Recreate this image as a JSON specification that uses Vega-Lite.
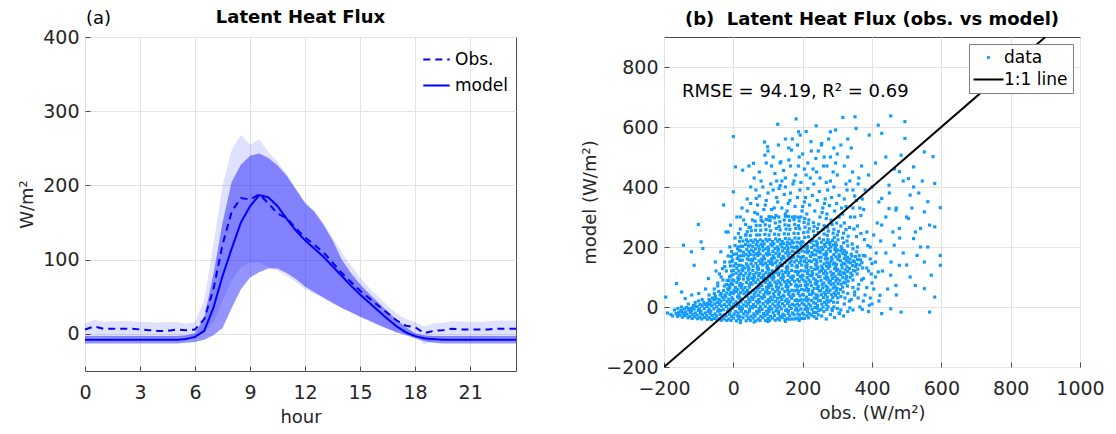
{
"$schema":"https://vega.github.io/schema/vega-lite/v6.json",
"background":"white",
"padding":{"left":18,"top":8,"right":5,"bottom":5},
"spacing":60,
"resolve":{"legend":{"color":"independent","strokeDash":"independent"},"scale":{"color":"independent","strokeDash":"independent"}},
"config":{
"font":"DejaVu Sans",
"view":{"stroke":"#4d4d4d","strokeWidth":1},
"axis":{"labelFont":"DejaVu Sans","labelFontSize":19,"labelColor":"#262626","titleFont":"DejaVu Sans","titleFontSize":18,"titleFontWeight":"normal","titleColor":"#262626","domain":false,"tickColor":"#4d4d4d","tickSize":-5,"gridColor":"#e3e3e3","grid":true,"labelPadding":11,"titlePadding":6,"format":"d","labelFlush":false,"labelOverlap":false},
"axisX":{"labelPadding":17},
"title":{"font":"DejaVu Sans","fontSize":18,"fontWeight":"bold","color":"#000000","anchor":"middle","offset":8}
},
"hconcat":[
{
"width":431,"height":334,
"title":{"text":"Latent Heat Flux","offset":-17},
"data":{"values":[
{"h":0,"obs":6,"model":-8,"olo":-5,"ohi":14,"mlo":-13,"mhi":-3},
{"h":0.5,"obs":10,"model":-8,"olo":-4,"ohi":19,"mlo":-13,"mhi":-3},
{"h":1,"obs":7,"model":-8,"olo":-4,"ohi":16,"mlo":-13,"mhi":-3},
{"h":1.5,"obs":7,"model":-8,"olo":-5,"ohi":17,"mlo":-13,"mhi":-3},
{"h":2,"obs":7,"model":-8,"olo":-5,"ohi":17,"mlo":-13,"mhi":-3},
{"h":2.5,"obs":7,"model":-8,"olo":-5,"ohi":17,"mlo":-13,"mhi":-3},
{"h":3,"obs":6,"model":-8,"olo":-5,"ohi":16,"mlo":-13,"mhi":-3},
{"h":3.5,"obs":5,"model":-8,"olo":-6,"ohi":16,"mlo":-13,"mhi":-3},
{"h":4,"obs":4,"model":-8,"olo":-6,"ohi":15,"mlo":-13,"mhi":-3},
{"h":4.5,"obs":4,"model":-8,"olo":-6,"ohi":16,"mlo":-13,"mhi":-3},
{"h":5,"obs":6,"model":-8,"olo":-5,"ohi":16,"mlo":-13,"mhi":-3},
{"h":5.5,"obs":5,"model":-7,"olo":-5,"ohi":14,"mlo":-12,"mhi":-2},
{"h":6,"obs":6,"model":-4,"olo":-3,"ohi":16,"mlo":-11,"mhi":1},
{"h":6.5,"obs":20,"model":4,"olo":2,"ohi":45,"mlo":-8,"mhi":22},
{"h":7,"obs":60,"model":35,"olo":15,"ohi":120,"mlo":-2,"mhi":80},
{"h":7.5,"obs":120,"model":78,"olo":45,"ohi":200,"mlo":8,"mhi":150},
{"h":8,"obs":165,"model":115,"olo":72,"ohi":248,"mlo":35,"mhi":205},
{"h":8.5,"obs":183,"model":150,"olo":90,"ohi":268,"mlo":60,"mhi":228},
{"h":9,"obs":181,"model":172,"olo":96,"ohi":255,"mlo":76,"mhi":240},
{"h":9.5,"obs":188,"model":187,"olo":96,"ohi":262,"mlo":83,"mhi":243},
{"h":10,"obs":176,"model":184,"olo":90,"ohi":245,"mlo":88,"mhi":237},
{"h":10.5,"obs":162,"model":172,"olo":85,"ohi":232,"mlo":88,"mhi":227},
{"h":11,"obs":156,"model":155,"olo":78,"ohi":215,"mlo":82,"mhi":213},
{"h":11.5,"obs":142,"model":139,"olo":70,"ohi":195,"mlo":74,"mhi":195},
{"h":12,"obs":130,"model":126,"olo":60,"ohi":178,"mlo":64,"mhi":176},
{"h":12.5,"obs":120,"model":115,"olo":54,"ohi":165,"mlo":56,"mhi":165},
{"h":13,"obs":110,"model":104,"olo":48,"ohi":150,"mlo":49,"mhi":147},
{"h":13.5,"obs":96,"model":91,"olo":41,"ohi":130,"mlo":42,"mhi":126},
{"h":14,"obs":82,"model":78,"olo":35,"ohi":110,"mlo":35,"mhi":100},
{"h":14.5,"obs":70,"model":65,"olo":29,"ohi":92,"mlo":29,"mhi":82},
{"h":15,"obs":58,"model":53,"olo":23,"ohi":76,"mlo":23,"mhi":67},
{"h":15.5,"obs":48,"model":42,"olo":17,"ohi":62,"mlo":18,"mhi":54},
{"h":16,"obs":38,"model":31,"olo":12,"ohi":50,"mlo":12,"mhi":42},
{"h":16.5,"obs":28,"model":20,"olo":7,"ohi":38,"mlo":7,"mhi":30},
{"h":17,"obs":18,"model":10,"olo":3,"ohi":27,"mlo":2,"mhi":19},
{"h":17.5,"obs":11,"model":2,"olo":0,"ohi":20,"mlo":-2,"mhi":9},
{"h":18,"obs":9,"model":-3,"olo":-4,"ohi":16,"mlo":-6,"mhi":1},
{"h":18.5,"obs":1,"model":-6,"olo":-14,"ohi":10,"mlo":-10,"mhi":-2},
{"h":19,"obs":4,"model":-7,"olo":-10,"ohi":14,"mlo":-12,"mhi":-3},
{"h":19.5,"obs":5,"model":-8,"olo":-7,"ohi":15,"mlo":-13,"mhi":-3},
{"h":20,"obs":7,"model":-8,"olo":-6,"ohi":17,"mlo":-13,"mhi":-3},
{"h":20.5,"obs":6,"model":-8,"olo":-6,"ohi":17,"mlo":-13,"mhi":-3},
{"h":21,"obs":6,"model":-8,"olo":-6,"ohi":16,"mlo":-13,"mhi":-3},
{"h":21.5,"obs":6,"model":-8,"olo":-6,"ohi":16,"mlo":-13,"mhi":-3},
{"h":22,"obs":6,"model":-8,"olo":-6,"ohi":17,"mlo":-13,"mhi":-3},
{"h":22.5,"obs":7,"model":-8,"olo":-5,"ohi":18,"mlo":-13,"mhi":-3},
{"h":23,"obs":7,"model":-8,"olo":-5,"ohi":18,"mlo":-13,"mhi":-3},
{"h":23.5,"obs":7,"model":-8,"olo":-5,"ohi":18,"mlo":-13,"mhi":-3}
]},
"layer":[
{"mark":{"type":"area","color":"#0000ff","opacity":0.12},
"encoding":{
"x":{"field":"h","type":"quantitative","scale":{"domain":[0,23.5],"nice":false},"axis":{"values":[0,3,6,9,12,15,18,21],"title":"hour"}},
"y":{"field":"olo","type":"quantitative","scale":{"domain":[-50,400],"nice":false},"axis":{"values":[0,100,200,300,400],"title":"W/m²"}},
"y2":{"field":"ohi"}}},
{"mark":{"type":"area","color":"#0000ff","opacity":0.42},
"encoding":{"x":{"field":"h","type":"quantitative"},"y":{"field":"mlo","type":"quantitative"},"y2":{"field":"mhi"}}},
{"transform":[{"fold":["obs","model"],"as":["key","val"]}],
"mark":{"type":"line","color":"#0000ff","strokeWidth":2},
"encoding":{"x":{"field":"h","type":"quantitative"},"y":{"field":"val","type":"quantitative"},
"strokeDash":{"field":"key","type":"nominal","scale":{"domain":["obs","model"],"range":[[7,5],[1,0]]},
"legend":{"title":null,"orient":"top-right","offset":8,"symbolType":"stroke","symbolStrokeColor":"#0000ff","symbolStrokeWidth":2,"symbolSize":700,"labelFontSize":17,"labelFont":"DejaVu Sans","labelColor":"#000000","rowPadding":3,"padding":0,"labelExpr":"datum.label == 'obs' ? 'Obs.' : datum.label"}}}},
{"data":{"values":[{}]},
"mark":{"type":"text","text":"(a)","align":"left","baseline":"alphabetic","dy":-13,"dx":1,"fontSize":18,"font":"DejaVu Sans","color":"#000000"},
"encoding":{"x":{"datum":0},"y":{"datum":400}}}
]
},
{
"width":416,"height":330,
"title":{"text":"(b)\u00a0 Latent Heat Flux (obs. vs model)"},
"layer":[
{"data":{"values":[
{"o":-161,"m":-31},{"o":-158,"m":-19},
{"o":-147,"m":-34},{"o":-145,"m":-21},{"o":-149,"m":-12},
{"o":-131,"m":-36},{"o":-134,"m":-24},{"o":-129,"m":-10},
{"o":-119,"m":-38},{"o":-117,"m":-25},{"o":-121,"m":-13},{"o":-118,"m":-3},
{"o":-103,"m":-39},{"o":-105,"m":-27},{"o":-101,"m":-12},{"o":-104,"m":1},
{"o":-91,"m":-40},{"o":-89,"m":-26},{"o":-93,"m":-14},{"o":-90,"m":4},
{"o":-75,"m":-41},{"o":-77,"m":-29},{"o":-73,"m":-15},{"o":-76,"m":2},{"o":-74,"m":12},
{"o":-63,"m":-42},{"o":-61,"m":-28},{"o":-65,"m":-13},{"o":-62,"m":4},{"o":-64,"m":17},
{"o":-47,"m":-43},{"o":-49,"m":-30},{"o":-45,"m":-14},{"o":-48,"m":1},{"o":-46,"m":15},{"o":-50,"m":28},
{"o":-35,"m":-44},{"o":-33,"m":-29},{"o":-37,"m":-12},{"o":-34,"m":3},{"o":-36,"m":19},{"o":-32,"m":33},{"o":-35,"m":45},
{"o":-19,"m":-45},{"o":-21,"m":-30},{"o":-17,"m":-15},{"o":-20,"m":2},{"o":-18,"m":18},{"o":-22,"m":34},{"o":-19,"m":47},{"o":-16,"m":61},{"o":-20,"m":75},{"o":-18,"m":89},
{"o":-7,"m":-45},{"o":-5,"m":-31},{"o":-9,"m":-14},{"o":-6,"m":1},{"o":-8,"m":18},{"o":-4,"m":31},{"o":-7,"m":49},{"o":-10,"m":64},{"o":-6,"m":78},{"o":-3,"m":90},{"o":-7,"m":104},{"o":-5,"m":120},{"o":-8,"m":137},{"o":-4,"m":152},{"o":-6,"m":168},
{"o":9,"m":-46},{"o":11,"m":-30},{"o":7,"m":-15},{"o":10,"m":3},{"o":8,"m":17},{"o":12,"m":34},{"o":9,"m":51},{"o":6,"m":65},{"o":10,"m":82},{"o":13,"m":97},{"o":8,"m":113},{"o":10,"m":129},{"o":7,"m":145},{"o":11,"m":161},{"o":9,"m":177},{"o":12,"m":194},
{"o":21,"m":-46},{"o":19,"m":-31},{"o":23,"m":-14},{"o":20,"m":0},{"o":22,"m":17},{"o":18,"m":31},{"o":21,"m":48},{"o":24,"m":64},{"o":20,"m":79},{"o":17,"m":95},{"o":22,"m":111},{"o":25,"m":125},{"o":21,"m":139},{"o":19,"m":155},{"o":23,"m":171},{"o":20,"m":187},{"o":22,"m":203},{"o":18,"m":219},{"o":21,"m":232},
{"o":37,"m":-46},{"o":39,"m":-30},{"o":35,"m":-15},{"o":38,"m":3},{"o":36,"m":17},{"o":40,"m":35},{"o":37,"m":50},{"o":34,"m":65},{"o":38,"m":82},{"o":41,"m":97},{"o":36,"m":113},{"o":33,"m":130},{"o":38,"m":144},{"o":40,"m":160},{"o":36,"m":176},{"o":39,"m":192},{"o":35,"m":208},{"o":38,"m":224},{"o":37,"m":240},{"o":40,"m":251},
{"o":49,"m":-45},{"o":51,"m":-31},{"o":47,"m":-14},{"o":50,"m":1},{"o":48,"m":18},{"o":52,"m":33},{"o":49,"m":48},{"o":46,"m":66},{"o":50,"m":81},{"o":53,"m":96},{"o":48,"m":112},{"o":45,"m":129},{"o":51,"m":144},{"o":54,"m":159},{"o":49,"m":175},{"o":52,"m":190},{"o":48,"m":206},{"o":51,"m":222},{"o":49,"m":238},{"o":52,"m":254},{"o":50,"m":266},
{"o":65,"m":-46},{"o":63,"m":-30},{"o":67,"m":-15},{"o":64,"m":2},{"o":66,"m":19},{"o":62,"m":34},{"o":65,"m":50},{"o":68,"m":65},{"o":64,"m":82},{"o":61,"m":99},{"o":66,"m":114},{"o":69,"m":129},{"o":65,"m":146},{"o":62,"m":162},{"o":67,"m":177},{"o":64,"m":194},{"o":66,"m":208},{"o":63,"m":224},{"o":67,"m":240},{"o":64,"m":256},{"o":66,"m":272},{"o":63,"m":286},
{"o":77,"m":-45},{"o":79,"m":-31},{"o":75,"m":-15},{"o":78,"m":2},{"o":76,"m":17},{"o":80,"m":33},{"o":77,"m":50},{"o":74,"m":64},{"o":78,"m":81},{"o":81,"m":98},{"o":76,"m":112},{"o":73,"m":129},{"o":79,"m":145},{"o":82,"m":160},{"o":77,"m":177},{"o":75,"m":193},{"o":80,"m":209},{"o":78,"m":224},{"o":76,"m":240},{"o":79,"m":256},{"o":77,"m":272},{"o":80,"m":289},
{"o":93,"m":-45},{"o":91,"m":-29},{"o":95,"m":-14},{"o":92,"m":2},{"o":94,"m":19},{"o":90,"m":34},{"o":93,"m":49},{"o":96,"m":66},{"o":92,"m":82},{"o":89,"m":97},{"o":94,"m":114},{"o":97,"m":131},{"o":93,"m":146},{"o":90,"m":161},{"o":95,"m":178},{"o":92,"m":194},{"o":89,"m":210},{"o":94,"m":226},{"o":91,"m":242},{"o":94,"m":258},{"o":92,"m":274},{"o":95,"m":292},
{"o":105,"m":-44},{"o":107,"m":-31},{"o":103,"m":-15},{"o":106,"m":1},{"o":104,"m":18},{"o":108,"m":33},{"o":105,"m":48},{"o":102,"m":65},{"o":106,"m":81},{"o":109,"m":98},{"o":104,"m":113},{"o":101,"m":128},{"o":107,"m":145},{"o":110,"m":161},{"o":105,"m":176},{"o":102,"m":193},{"o":108,"m":209},{"o":105,"m":225},{"o":103,"m":240},{"o":107,"m":254},{"o":104,"m":270},{"o":106,"m":288},{"o":103,"m":301},
{"o":121,"m":-44},{"o":119,"m":-29},{"o":123,"m":-13},{"o":120,"m":3},{"o":122,"m":19},{"o":118,"m":35},{"o":121,"m":52},{"o":124,"m":67},{"o":120,"m":83},{"o":117,"m":98},{"o":122,"m":115},{"o":125,"m":131},{"o":121,"m":147},{"o":118,"m":163},{"o":123,"m":179},{"o":120,"m":195},{"o":117,"m":211},{"o":122,"m":227},{"o":119,"m":243},{"o":124,"m":262},{"o":121,"m":280},{"o":119,"m":297},
{"o":133,"m":-43},{"o":135,"m":-31},{"o":131,"m":-15},{"o":134,"m":1},{"o":132,"m":17},{"o":136,"m":33},{"o":133,"m":49},{"o":130,"m":65},{"o":134,"m":81},{"o":137,"m":97},{"o":132,"m":113},{"o":129,"m":129},{"o":135,"m":145},{"o":138,"m":161},{"o":133,"m":177},{"o":130,"m":193},{"o":136,"m":209},{"o":133,"m":225},{"o":131,"m":241},{"o":135,"m":257},{"o":132,"m":268},{"o":134,"m":284},{"o":131,"m":300},
{"o":149,"m":-42},{"o":147,"m":-28},{"o":151,"m":-12},{"o":148,"m":4},{"o":150,"m":20},{"o":146,"m":36},{"o":149,"m":52},{"o":152,"m":68},{"o":148,"m":84},{"o":145,"m":100},{"o":150,"m":116},{"o":153,"m":132},{"o":149,"m":148},{"o":146,"m":164},{"o":151,"m":180},{"o":148,"m":196},{"o":145,"m":212},{"o":150,"m":228},{"o":147,"m":244},{"o":152,"m":260},{"o":149,"m":274},{"o":147,"m":290},{"o":150,"m":303},
{"o":161,"m":-41},{"o":163,"m":-29},{"o":159,"m":-13},{"o":162,"m":3},{"o":160,"m":19},{"o":164,"m":35},{"o":161,"m":51},{"o":158,"m":67},{"o":162,"m":83},{"o":165,"m":99},{"o":160,"m":115},{"o":157,"m":131},{"o":163,"m":147},{"o":166,"m":163},{"o":161,"m":179},{"o":158,"m":195},{"o":164,"m":211},{"o":161,"m":227},{"o":159,"m":243},{"o":163,"m":259},{"o":160,"m":272},{"o":162,"m":288},{"o":159,"m":302},
{"o":177,"m":-40},{"o":175,"m":-26},{"o":179,"m":-10},{"o":176,"m":6},{"o":178,"m":22},{"o":174,"m":38},{"o":177,"m":54},{"o":180,"m":70},{"o":176,"m":86},{"o":173,"m":102},{"o":178,"m":118},{"o":181,"m":134},{"o":177,"m":150},{"o":174,"m":166},{"o":179,"m":182},{"o":176,"m":198},{"o":173,"m":214},{"o":178,"m":230},{"o":175,"m":246},{"o":180,"m":262},{"o":177,"m":275},{"o":175,"m":291},{"o":178,"m":301},
{"o":189,"m":-40},{"o":191,"m":-27},{"o":187,"m":-11},{"o":190,"m":5},{"o":188,"m":21},{"o":192,"m":37},{"o":189,"m":53},{"o":186,"m":69},{"o":190,"m":85},{"o":193,"m":101},{"o":188,"m":117},{"o":185,"m":133},{"o":191,"m":149},{"o":194,"m":165},{"o":189,"m":181},{"o":186,"m":197},{"o":192,"m":213},{"o":189,"m":229},{"o":187,"m":245},{"o":191,"m":261},{"o":188,"m":271},{"o":190,"m":287},{"o":187,"m":299},
{"o":205,"m":-38},{"o":203,"m":-24},{"o":207,"m":-8},{"o":204,"m":8},{"o":206,"m":24},{"o":202,"m":40},{"o":205,"m":56},{"o":208,"m":72},{"o":204,"m":88},{"o":201,"m":104},{"o":206,"m":120},{"o":209,"m":136},{"o":205,"m":152},{"o":202,"m":168},{"o":207,"m":184},{"o":204,"m":200},{"o":201,"m":216},{"o":206,"m":232},{"o":203,"m":248},{"o":207,"m":266},{"o":204,"m":282},{"o":206,"m":295},
{"o":217,"m":-36},{"o":219,"m":-22},{"o":215,"m":-6},{"o":218,"m":10},{"o":216,"m":26},{"o":220,"m":42},{"o":217,"m":58},{"o":214,"m":74},{"o":218,"m":90},{"o":221,"m":106},{"o":216,"m":122},{"o":213,"m":138},{"o":219,"m":154},{"o":222,"m":170},{"o":217,"m":186},{"o":214,"m":202},{"o":220,"m":218},{"o":217,"m":234},{"o":215,"m":250},{"o":219,"m":261},{"o":216,"m":277},{"o":218,"m":290},
{"o":233,"m":-32},{"o":231,"m":-18},{"o":235,"m":-2},{"o":232,"m":14},{"o":234,"m":30},{"o":230,"m":46},{"o":233,"m":62},{"o":236,"m":78},{"o":232,"m":94},{"o":229,"m":110},{"o":234,"m":126},{"o":237,"m":142},{"o":233,"m":158},{"o":230,"m":174},{"o":235,"m":190},{"o":232,"m":206},{"o":229,"m":222},{"o":234,"m":238},{"o":231,"m":253},{"o":233,"m":268},{"o":231,"m":281},
{"o":245,"m":-26},{"o":247,"m":-11},{"o":243,"m":5},{"o":246,"m":21},{"o":244,"m":37},{"o":248,"m":53},{"o":245,"m":69},{"o":242,"m":85},{"o":246,"m":101},{"o":249,"m":117},{"o":244,"m":133},{"o":241,"m":149},{"o":247,"m":165},{"o":250,"m":181},{"o":245,"m":197},{"o":242,"m":213},{"o":248,"m":229},{"o":245,"m":248},{"o":243,"m":262},{"o":246,"m":276},
{"o":261,"m":-15},{"o":259,"m":0},{"o":263,"m":16},{"o":260,"m":32},{"o":262,"m":48},{"o":258,"m":64},{"o":261,"m":80},{"o":264,"m":96},{"o":260,"m":112},{"o":257,"m":128},{"o":262,"m":144},{"o":265,"m":160},{"o":261,"m":176},{"o":258,"m":192},{"o":263,"m":208},{"o":260,"m":224},{"o":262,"m":243},{"o":259,"m":258},{"o":262,"m":271},
{"o":273,"m":1},{"o":275,"m":17},{"o":271,"m":33},{"o":274,"m":49},{"o":272,"m":65},{"o":276,"m":81},{"o":273,"m":97},{"o":270,"m":113},{"o":274,"m":129},{"o":277,"m":145},{"o":272,"m":161},{"o":269,"m":177},{"o":275,"m":193},{"o":278,"m":209},{"o":273,"m":225},{"o":271,"m":239},{"o":274,"m":253},{"o":272,"m":266},
{"o":289,"m":16},{"o":287,"m":31},{"o":291,"m":47},{"o":288,"m":63},{"o":290,"m":79},{"o":286,"m":95},{"o":289,"m":111},{"o":292,"m":127},{"o":288,"m":143},{"o":285,"m":159},{"o":290,"m":175},{"o":293,"m":191},{"o":289,"m":207},{"o":286,"m":222},{"o":291,"m":232},{"o":288,"m":246},{"o":290,"m":259},
{"o":301,"m":30},{"o":303,"m":46},{"o":299,"m":62},{"o":302,"m":78},{"o":300,"m":94},{"o":304,"m":110},{"o":301,"m":126},{"o":298,"m":142},{"o":302,"m":158},{"o":305,"m":174},{"o":300,"m":190},{"o":297,"m":206},{"o":302,"m":224},{"o":300,"m":240},{"o":303,"m":252},
{"o":317,"m":50},{"o":315,"m":66},{"o":319,"m":82},{"o":316,"m":98},{"o":318,"m":114},{"o":314,"m":130},{"o":317,"m":146},{"o":320,"m":162},{"o":316,"m":178},{"o":313,"m":194},{"o":318,"m":214},{"o":315,"m":230},{"o":318,"m":246},
{"o":329,"m":70},{"o":331,"m":86},{"o":327,"m":102},{"o":330,"m":118},{"o":328,"m":134},{"o":332,"m":150},{"o":329,"m":166},{"o":326,"m":182},{"o":330,"m":204},{"o":328,"m":220},{"o":331,"m":236},
{"o":345,"m":90},{"o":343,"m":106},{"o":347,"m":122},{"o":344,"m":138},{"o":346,"m":154},{"o":342,"m":170},{"o":345,"m":194},{"o":343,"m":210},
{"o":357,"m":110},{"o":359,"m":126},{"o":355,"m":142},{"o":358,"m":158},{"o":356,"m":184},{"o":358,"m":200},
{"o":373,"m":130},{"o":371,"m":148},{"o":375,"m":172},
{"o":0,"m":-37},{"o":2,"m":-24},{"o":-2,"m":-4},{"o":1,"m":10},{"o":-1,"m":25},{"o":0,"m":45},{"o":2,"m":55},{"o":-2,"m":75},{"o":1,"m":88},{"o":-1,"m":108},{"o":0,"m":122},{"o":2,"m":137},{"o":-2,"m":157},
{"o":16,"m":-39},{"o":14,"m":-20},{"o":18,"m":-6},{"o":15,"m":8},{"o":17,"m":29},{"o":16,"m":41},{"o":13,"m":59},{"o":18,"m":71},{"o":15,"m":92},{"o":17,"m":106},{"o":16,"m":120},{"o":14,"m":139},{"o":18,"m":157},{"o":15,"m":169},{"o":17,"m":188},
{"o":28,"m":-36},{"o":30,"m":-23},{"o":26,"m":-5},{"o":29,"m":7},{"o":27,"m":26},{"o":31,"m":44},{"o":28,"m":56},{"o":25,"m":75},{"o":29,"m":93},{"o":30,"m":105},{"o":27,"m":122},{"o":28,"m":136},{"o":26,"m":156},{"o":30,"m":171},{"o":29,"m":183},{"o":27,"m":202},
{"o":44,"m":-38},{"o":42,"m":-20},{"o":46,"m":-8},{"o":43,"m":11},{"o":45,"m":25},{"o":44,"m":45},{"o":41,"m":55},{"o":46,"m":74},{"o":43,"m":92},{"o":45,"m":105},{"o":44,"m":123},{"o":42,"m":136},{"o":46,"m":157},{"o":43,"m":170},{"o":45,"m":184},{"o":44,"m":203},{"o":42,"m":217},
{"o":57,"m":-37},{"o":59,"m":-23},{"o":55,"m":-3},{"o":58,"m":8},{"o":56,"m":26},{"o":60,"m":43},{"o":57,"m":55},{"o":54,"m":76},{"o":58,"m":89},{"o":59,"m":108},{"o":56,"m":122},{"o":57,"m":136},{"o":55,"m":155},{"o":59,"m":173},{"o":58,"m":185},{"o":56,"m":202},{"o":57,"m":216},
{"o":72,"m":-40},{"o":70,"m":-21},{"o":74,"m":-6},{"o":71,"m":13},{"o":73,"m":25},{"o":72,"m":39},{"o":69,"m":60},{"o":74,"m":74},{"o":71,"m":91},{"o":73,"m":104},{"o":72,"m":125},{"o":70,"m":137},{"o":74,"m":154},{"o":71,"m":172},{"o":73,"m":183},{"o":72,"m":203},{"o":70,"m":218},
{"o":85,"m":-36},{"o":87,"m":-22},{"o":83,"m":-8},{"o":86,"m":11},{"o":84,"m":29},{"o":88,"m":41},{"o":85,"m":58},{"o":82,"m":71},{"o":86,"m":92},{"o":87,"m":107},{"o":84,"m":121},{"o":85,"m":140},{"o":83,"m":152},{"o":87,"m":170},{"o":86,"m":189},{"o":84,"m":201},{"o":85,"m":219},
{"o":100,"m":-38},{"o":98,"m":-24},{"o":102,"m":-5},{"o":99,"m":13},{"o":101,"m":25},{"o":100,"m":44},{"o":97,"m":55},{"o":102,"m":75},{"o":99,"m":90},{"o":101,"m":104},{"o":100,"m":124},{"o":98,"m":139},{"o":102,"m":153},{"o":99,"m":173},{"o":101,"m":186},{"o":100,"m":200},{"o":98,"m":220},
{"o":113,"m":-37},{"o":115,"m":-19},{"o":111,"m":-7},{"o":114,"m":10},{"o":112,"m":24},{"o":116,"m":44},{"o":113,"m":59},{"o":110,"m":71},{"o":114,"m":92},{"o":115,"m":106},{"o":112,"m":121},{"o":113,"m":141},{"o":111,"m":152},{"o":115,"m":171},{"o":114,"m":185},{"o":112,"m":204},{"o":113,"m":218},
{"o":128,"m":-39},{"o":130,"m":-22},{"o":126,"m":-4},{"o":129,"m":8},{"o":127,"m":29},{"o":131,"m":42},{"o":128,"m":57},{"o":125,"m":76},{"o":129,"m":87},{"o":130,"m":107},{"o":127,"m":124},{"o":128,"m":136},{"o":126,"m":154},{"o":130,"m":169},{"o":129,"m":189},{"o":127,"m":200},{"o":128,"m":219},
{"o":141,"m":-35},{"o":143,"m":-24},{"o":139,"m":-6},{"o":142,"m":11},{"o":140,"m":25},{"o":144,"m":39},{"o":141,"m":60},{"o":138,"m":74},{"o":142,"m":91},{"o":143,"m":108},{"o":140,"m":120},{"o":141,"m":138},{"o":139,"m":157},{"o":143,"m":169},{"o":142,"m":187},{"o":140,"m":200},{"o":141,"m":218},
{"o":156,"m":-38},{"o":158,"m":-21},{"o":154,"m":-9},{"o":157,"m":12},{"o":155,"m":26},{"o":159,"m":43},{"o":156,"m":57},{"o":153,"m":77},{"o":157,"m":88},{"o":158,"m":106},{"o":155,"m":123},{"o":156,"m":136},{"o":154,"m":156},{"o":158,"m":170},{"o":157,"m":185},{"o":155,"m":205},{"o":156,"m":216},
{"o":169,"m":-40},{"o":171,"m":-20},{"o":167,"m":-5},{"o":170,"m":9},{"o":168,"m":29},{"o":172,"m":42},{"o":169,"m":56},{"o":166,"m":75},{"o":170,"m":92},{"o":171,"m":103},{"o":168,"m":122},{"o":169,"m":139},{"o":167,"m":153},{"o":171,"m":172},{"o":170,"m":186},{"o":168,"m":200},{"o":169,"m":221},
{"o":184,"m":-37},{"o":186,"m":-23},{"o":182,"m":-4},{"o":185,"m":10},{"o":183,"m":24},{"o":187,"m":45},{"o":184,"m":57},{"o":181,"m":74},{"o":185,"m":91},{"o":186,"m":108},{"o":183,"m":119},{"o":184,"m":138},{"o":182,"m":156},{"o":186,"m":169},{"o":185,"m":187},{"o":183,"m":202},{"o":184,"m":216},
{"o":197,"m":-38},{"o":199,"m":-20},{"o":195,"m":-7},{"o":198,"m":13},{"o":196,"m":24},{"o":200,"m":42},{"o":197,"m":59},{"o":194,"m":72},{"o":198,"m":93},{"o":199,"m":106},{"o":196,"m":121},{"o":197,"m":140},{"o":195,"m":154},{"o":199,"m":167},{"o":198,"m":187},{"o":196,"m":204},{"o":197,"m":217},
{"o":212,"m":-29},{"o":214,"m":-16},{"o":210,"m":2},{"o":213,"m":20},{"o":211,"m":33},{"o":215,"m":53},{"o":212,"m":63},{"o":209,"m":83},{"o":213,"m":98},{"o":214,"m":112},{"o":211,"m":132},{"o":212,"m":147},{"o":210,"m":161},{"o":214,"m":181},{"o":213,"m":194},{"o":211,"m":208},
{"o":225,"m":-27},{"o":227,"m":-8},{"o":223,"m":4},{"o":226,"m":22},{"o":224,"m":41},{"o":228,"m":53},{"o":225,"m":71},{"o":222,"m":83},{"o":226,"m":104},{"o":227,"m":118},{"o":224,"m":132},{"o":225,"m":151},{"o":223,"m":169},{"o":227,"m":181},{"o":226,"m":198},{"o":224,"m":216},
{"o":240,"m":-18},{"o":242,"m":-4},{"o":238,"m":11},{"o":241,"m":29},{"o":239,"m":41},{"o":243,"m":62},{"o":240,"m":76},{"o":237,"m":90},{"o":241,"m":109},{"o":242,"m":127},{"o":239,"m":139},{"o":240,"m":156},{"o":238,"m":174},{"o":242,"m":186},{"o":241,"m":205},{"o":239,"m":219},
{"o":253,"m":-8},{"o":255,"m":10},{"o":251,"m":22},{"o":254,"m":41},{"o":252,"m":55},{"o":256,"m":75},{"o":253,"m":88},{"o":250,"m":101},{"o":254,"m":122},{"o":255,"m":136},{"o":252,"m":153},{"o":253,"m":166},{"o":251,"m":186},{"o":255,"m":199},{"o":254,"m":216},
{"o":268,"m":9},{"o":270,"m":23},{"o":266,"m":42},{"o":269,"m":56},{"o":267,"m":70},{"o":271,"m":91},{"o":268,"m":103},{"o":265,"m":121},{"o":269,"m":136},{"o":270,"m":149},{"o":267,"m":170},{"o":268,"m":184},{"o":266,"m":201},{"o":270,"m":215},
{"o":281,"m":22},{"o":283,"m":41},{"o":279,"m":56},{"o":282,"m":75},{"o":280,"m":87},{"o":284,"m":106},{"o":281,"m":117},{"o":278,"m":136},{"o":282,"m":153},{"o":283,"m":166},{"o":280,"m":186},{"o":281,"m":200},{"o":279,"m":215},
{"o":295,"m":39},{"o":297,"m":54},{"o":293,"m":68},{"o":296,"m":88},{"o":294,"m":101},{"o":298,"m":121},{"o":295,"m":134},{"o":292,"m":147},{"o":296,"m":167},{"o":297,"m":184},{"o":294,"m":197},{"o":295,"m":214},
{"o":309,"m":58},{"o":311,"m":76},{"o":307,"m":89},{"o":310,"m":107},{"o":308,"m":119},{"o":312,"m":140},{"o":309,"m":154},{"o":306,"m":168},{"o":310,"m":187},{"o":311,"m":201},
{"o":323,"m":80},{"o":325,"m":93},{"o":321,"m":111},{"o":324,"m":124},{"o":322,"m":143},{"o":326,"m":155},{"o":323,"m":173},{"o":320,"m":188},
{"o":337,"m":99},{"o":339,"m":113},{"o":335,"m":128},{"o":338,"m":147},{"o":336,"m":160},{"o":340,"m":176},
{"o":351,"m":120},{"o":353,"m":135},{"o":349,"m":151},{"o":352,"m":168},
{"o":365,"m":140},{"o":367,"m":157},{"o":363,"m":171},
{"o":-154,"m":-27},{"o":-152,"m":-15},{"o":-140,"m":-29},{"o":-138,"m":-17},{"o":-141,"m":-6},{"o":-126,"m":-31},{"o":-124,"m":-18},{"o":-127,"m":-5},
{"o":-112,"m":-33},{"o":-110,"m":-20},{"o":-113,"m":-7},{"o":-111,"m":4},{"o":-97,"m":-34},{"o":-95,"m":-21},{"o":-98,"m":-6},{"o":-96,"m":8},
{"o":-83,"m":-35},{"o":-81,"m":-20},{"o":-84,"m":-5},{"o":-82,"m":9},{"o":-69,"m":-36},{"o":-67,"m":-22},{"o":-70,"m":-7},{"o":-68,"m":8},{"o":-69,"m":22},
{"o":-55,"m":-38},{"o":-53,"m":-23},{"o":-56,"m":-6},{"o":-54,"m":10},{"o":-55,"m":24},{"o":-52,"m":36},
{"o":-41,"m":-39},{"o":-39,"m":-24},{"o":-42,"m":-8},{"o":-40,"m":9},{"o":-41,"m":25},{"o":-38,"m":40},{"o":-42,"m":52},
{"o":-27,"m":-40},{"o":-25,"m":-25},{"o":-28,"m":-9},{"o":-26,"m":8},{"o":-27,"m":24},{"o":-24,"m":40},{"o":-28,"m":55},{"o":-26,"m":70},
{"o":-13,"m":-40},{"o":-11,"m":-24},{"o":-14,"m":-7},{"o":-12,"m":9},{"o":-13,"m":26},{"o":-10,"m":42},{"o":-14,"m":58},{"o":-12,"m":73},{"o":-13,"m":88},{"o":-11,"m":100},
{"o":240,"m":-38},{"o":255,"m":-30},{"o":268,"m":-40},{"o":280,"m":-25},{"o":292,"m":-35},{"o":305,"m":-20},{"o":318,"m":-30},{"o":330,"m":-15},{"o":345,"m":-10},{"o":300,"m":-5},{"o":285,"m":-12},{"o":270,"m":-8},
{"o":-180,"m":-25},{"o":-190,"m":-20},{"o":-170,"m":-10},{"o":-175,"m":-30},{"o":-165,"m":-22},
{"o":20,"m":-52},{"o":60,"m":-50},{"o":100,"m":-48},{"o":150,"m":-48},{"o":190,"m":-45},
{"o":0,"m":568},{"o":0,"m":384},{"o":6,"m":467},{"o":-28,"m":340},{"o":27,"m":456},{"o":-101,"m":275},{"o":-144,"m":206},{"o":-93,"m":217},{"o":-88,"m":195},{"o":-121,"m":184},{"o":-113,"m":139},{"o":-164,"m":78},{"o":-195,"m":33},{"o":-149,"m":50},{"o":-139,"m":28},{"o":-72,"m":95},{"o":-52,"m":150},{"o":-36,"m":184},{"o":-31,"m":128},{"o":-21,"m":250},{"o":-8,"m":273},
{"o":66,"m":362},{"o":58,"m":479},{"o":91,"m":506},{"o":99,"m":534},{"o":128,"m":609},{"o":137,"m":484},{"o":168,"m":523},{"o":181,"m":627},{"o":188,"m":584},{"o":193,"m":573},{"o":224,"m":551},{"o":239,"m":604},{"o":254,"m":540},{"o":280,"m":584},{"o":295,"m":590},{"o":316,"m":632},{"o":351,"m":634},{"o":354,"m":595},{"o":392,"m":573},{"o":418,"m":606},{"o":428,"m":579},{"o":454,"m":637},{"o":495,"m":618},{"o":495,"m":562},{"o":484,"m":506},{"o":520,"m":467},{"o":551,"m":517},{"o":576,"m":501},{"o":581,"m":412},{"o":597,"m":331},{"o":561,"m":351},{"o":551,"m":317},{"o":566,"m":273},{"o":581,"m":267},{"o":540,"m":262},{"o":520,"m":228},{"o":561,"m":200},{"o":530,"m":172},{"o":551,"m":150},{"o":597,"m":172},{"o":597,"m":139},{"o":571,"m":106},{"o":525,"m":72},{"o":551,"m":61},{"o":581,"m":33},{"o":566,"m":-17},{"o":484,"m":-17},{"o":454,"m":-6},{"o":428,"m":-22},{"o":423,"m":39},{"o":469,"m":72},{"o":479,"m":139},{"o":454,"m":106},{"o":418,"m":117},{"o":392,"m":6},{"o":372,"m":-8},{"o":336,"m":-3},{"o":306,"m":-22},{"o":285,"m":-6},{"o":464,"m":206},{"o":479,"m":262},{"o":505,"m":295},{"o":510,"m":373},{"o":505,"m":428},{"o":479,"m":451},{"o":449,"m":406},{"o":428,"m":362},{"o":449,"m":328},{"o":469,"m":323},{"o":428,"m":273},
{"o":55,"m":290},{"o":62,"m":315},{"o":70,"m":340},{"o":80,"m":300},{"o":88,"m":325},{"o":95,"m":355},{"o":102,"m":290},{"o":75,"m":370},{"o":45,"m":265},{"o":35,"m":240},{"o":28,"m":220},{"o":15,"m":200},{"o":0,"m":175},{"o":-10,"m":150},{"o":-20,"m":120},{"o":-30,"m":90},{"o":20,"m":260},
{"o":110,"m":300},{"o":118,"m":330},{"o":125,"m":365},{"o":132,"m":395},{"o":140,"m":420},{"o":108,"m":410},{"o":150,"m":310},{"o":158,"m":345},{"o":165,"m":380},{"o":172,"m":410},{"o":180,"m":440},{"o":188,"m":470},{"o":145,"m":455},{"o":160,"m":490},{"o":195,"m":300},{"o":200,"m":335},{"o":208,"m":365},{"o":215,"m":395},{"o":222,"m":430},{"o":230,"m":460},{"o":238,"m":495},{"o":245,"m":520},{"o":200,"m":510},{"o":185,"m":540},{"o":170,"m":560},{"o":215,"m":480},{"o":120,"m":445},{"o":135,"m":480},
{"o":250,"m":300},{"o":258,"m":330},{"o":265,"m":360},{"o":272,"m":390},{"o":280,"m":420},{"o":288,"m":450},{"o":295,"m":480},{"o":305,"m":300},{"o":312,"m":330},{"o":320,"m":360},{"o":328,"m":390},{"o":336,"m":420},{"o":344,"m":450},{"o":300,"m":510},{"o":310,"m":540},{"o":270,"m":470},{"o":262,"m":500},{"o":255,"m":545},{"o":320,"m":470},{"o":330,"m":500},{"o":340,"m":530},{"o":350,"m":300},{"o":358,"m":270},{"o":365,"m":330},{"o":372,"m":360},{"o":380,"m":390},{"o":360,"m":410},{"o":350,"m":370},{"o":285,"m":275},{"o":320,"m":280},
{"o":360,"m":60},{"o":370,"m":90},{"o":380,"m":40},{"o":390,"m":120},{"o":400,"m":80},{"o":410,"m":150},{"o":395,"m":200},{"o":405,"m":240},{"o":385,"m":250},{"o":415,"m":280},{"o":425,"m":220},{"o":440,"m":180},{"o":430,"m":120},{"o":445,"m":60},{"o":420,"m":20},{"o":400,"m":10},{"o":375,"m":20},{"o":350,"m":40},{"o":340,"m":25},{"o":365,"m":0},{"o":390,"m":-15},{"o":455,"m":150},{"o":460,"m":250},{"o":440,"m":300},{"o":470,"m":330},{"o":450,"m":380},{"o":480,"m":230},{"o":490,"m":180},{"o":500,"m":140},{"o":510,"m":100},{"o":470,"m":40},{"o":500,"m":300},{"o":525,"m":250},{"o":540,"m":200},{"o":515,"m":330},{"o":535,"m":380},{"o":545,"m":420},{"o":520,"m":400},{"o":490,"m":420},{"o":465,"m":460},{"o":440,"m":500},{"o":410,"m":480},{"o":390,"m":440},{"o":370,"m":470},{"o":400,"m":400},{"o":420,"m":350},
{"o":-150,"m":0},{"o":-130,"m":10},{"o":-110,"m":15},{"o":-90,"m":25},{"o":-70,"m":40},{"o":-55,"m":60},{"o":-60,"m":30},{"o":-45,"m":80},{"o":-80,"m":60},{"o":-100,"m":45},{"o":-120,"m":40},{"o":-40,"m":110},{"o":-25,"m":150},{"o":-50,"m":120},{"o":-10,"m":200},{"o":5,"m":230},{"o":-15,"m":250},{"o":10,"m":300},{"o":25,"m":330},{"o":40,"m":360},{"o":30,"m":290},{"o":50,"m":400},{"o":60,"m":430},{"o":45,"m":470},{"o":75,"m":450},{"o":85,"m":400},{"o":95,"m":480},{"o":100,"m":520},{"o":115,"m":500},{"o":130,"m":540},{"o":150,"m":560},{"o":90,"m":550},
{"o":70,"m":310},{"o":85,"m":285},{"o":92,"m":340},{"o":110,"m":325},{"o":123,"m":305},{"o":128,"m":350},{"o":140,"m":330},{"o":147,"m":375},{"o":155,"m":320},{"o":163,"m":355},{"o":170,"m":300},{"o":178,"m":335},{"o":185,"m":365},{"o":192,"m":390},{"o":198,"m":320},{"o":205,"m":350},{"o":212,"m":310},{"o":220,"m":340},{"o":228,"m":372},{"o":235,"m":320},{"o":242,"m":355},{"o":248,"m":385},{"o":256,"m":315},{"o":263,"m":345},{"o":270,"m":310},{"o":277,"m":338},{"o":283,"m":365},{"o":292,"m":320},{"o":298,"m":345},{"o":305,"m":372},{"o":315,"m":310},{"o":325,"m":335},{"o":338,"m":300},{"o":345,"m":330},{"o":355,"m":355},{"o":368,"m":305},{"o":376,"m":325},
{"o":100,"m":380},{"o":115,"m":390},{"o":135,"m":405},{"o":150,"m":400},{"o":175,"m":420},{"o":195,"m":415},{"o":210,"m":440},{"o":232,"m":410},{"o":250,"m":430},{"o":268,"m":415},{"o":290,"m":400},{"o":300,"m":440},{"o":325,"m":410},{"o":345,"m":390},{"o":362,"m":430},{"o":150,"m":430},{"o":125,"m":420},{"o":205,"m":460},{"o":240,"m":450},{"o":260,"m":470},{"o":280,"m":500},{"o":190,"m":500},{"o":165,"m":470},{"o":225,"m":520},{"o":290,"m":530},{"o":330,"m":560},{"o":275,"m":560},{"o":210,"m":585},{"o":160,"m":530},{"o":110,"m":470},{"o":80,"m":420},{"o":65,"m":390},{"o":40,"m":320},{"o":50,"m":345},{"o":20,"m":300},{"o":35,"m":275},{"o":15,"m":245},{"o":5,"m":205},{"o":-5,"m":185},{"o":-15,"m":170},{"o":-25,"m":135},{"o":-35,"m":100},{"o":-45,"m":70},{"o":-55,"m":45},{"o":-70,"m":25},{"o":-85,"m":15},{"o":-100,"m":20},{"o":-115,"m":5},{"o":-135,"m":-2},{"o":-160,"m":-5},
{"o":310,"m":-10},{"o":320,"m":10},{"o":335,"m":20},{"o":350,"m":50},{"o":362,"m":75},{"o":375,"m":95},{"o":385,"m":130},{"o":395,"m":160},{"o":380,"m":170},{"o":398,"m":110},{"o":405,"m":60},{"o":385,"m":65},{"o":360,"m":30},{"o":330,"m":45},{"o":345,"m":65},{"o":322,"m":30},{"o":300,"m":15},{"o":290,"m":0},{"o":310,"m":35},{"o":395,"m":30},{"o":410,"m":100},{"o":412,"m":180},{"o":400,"m":145},{"o":388,"m":205},{"o":378,"m":225},{"o":368,"m":245},{"o":355,"m":235},{"o":348,"m":260},{"o":335,"m":265},{"o":325,"m":258},{"o":310,"m":270},{"o":298,"m":280},{"o":282,"m":290},{"o":268,"m":295}
]},
"mark":{"type":"point","shape":"square","filled":true,"size":10,"opacity":1,"strokeWidth":0},
"encoding":{
"x":{"field":"o","type":"quantitative","scale":{"domain":[-200,1000],"nice":false},"axis":{"values":[-200,0,200,400,600,800,1000],"title":"obs. (W/m²)"}},
"y":{"field":"m","type":"quantitative","scale":{"domain":[-200,900],"nice":false},"axis":{"values":[-200,0,200,400,600,800],"title":"model (W/m²)"}},
"color":{"datum":"data","type":"nominal","scale":{"domain":["data","1:1 line"],"range":["#0f9bff","#000000"]},
"legend":{"title":null,"orient":"top-right","offset":7,"strokeColor":"#7f7f7f","fillColor":"white","padding":5,"labelFontSize":17,"labelFont":"DejaVu Sans","labelColor":"#000000","rowPadding":4,"symbolOffset":6,"labelOffset":7,
"symbolType":{"expr":"datum.value === 'data' ? 'square' : 'stroke'"},
"symbolSize":{"expr":"datum.value === 'data' ? 8 : 900"},
"symbolStrokeWidth":{"expr":"datum.value === 'data' ? 0 : 2"},
"symbolStrokeColor":{"expr":"datum.value === 'data' ? '#0f9bff' : '#000000'"}}}}},
{"data":{"values":[{"o":-200,"m":-200},{"o":900,"m":900}]},
"mark":{"type":"line","strokeWidth":2,"clip":true},
"encoding":{"x":{"field":"o","type":"quantitative"},"y":{"field":"m","type":"quantitative"},"color":{"datum":"1:1 line","type":"nominal"}}},
{"data":{"values":[{}]},
"mark":{"type":"text","text":"RMSE = 94.19, R² = 0.69","align":"left","baseline":"middle","fontSize":18,"font":"DejaVu Sans","color":"#000000"},
"encoding":{"x":{"datum":-148},"y":{"datum":717}}}
]
}
]
}
